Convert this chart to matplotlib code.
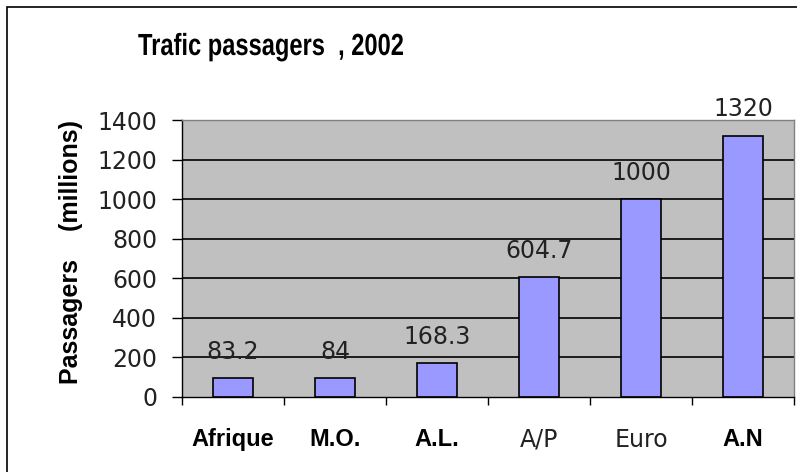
import matplotlib
matplotlib.use("Agg")
import matplotlib.pyplot as plt
from matplotlib.patches import Rectangle
from matplotlib.patheffects import AbstractPathEffect
from matplotlib.transforms import Affine2D

categories = ["Afrique", "M.O.", "A.L.", "A/P", "Euro", "A.N"]
bold_labels = [True, True, True, False, False, True]
bar_heights = [96, 96, 172, 606, 1000, 1320]
value_labels = ["83.2", "84", "168.3", "604.7", "1000", "1320"]
yticks = [0, 200, 400, 600, 800, 1000, 1200, 1400]

BOLD = ["Liberation Sans", "DejaVu Sans"]
NUM = ["DejaVu Sans"]


class Condensed(AbstractPathEffect):
    """Squeeze the glyphs horizontally (the title font is a narrow one)."""
    def __init__(self, sx):
        super().__init__()
        self.sx = sx

    def draw_path(self, renderer, gc, tpath, affine, rgbFace=None):
        renderer.draw_path(gc, tpath, Affine2D().scale(self.sx, 1) + affine,
                           rgbFace)


fig = plt.figure(figsize=(7.97, 4.72), dpi=100)
ax = fig.add_axes([182 / 797, 1 - 397 / 472, 612 / 797, 277 / 472])

ax.set_facecolor("#c0c0c0")
x = list(range(len(categories)))
ax.bar(x, bar_heights, width=0.4, color="#9999ff", edgecolor="black",
       linewidth=1.2, zorder=3)

# value labels sit a fixed distance above each bar
for xi, h, lab in zip(x, bar_heights, value_labels):
    ax.annotate(lab, (xi, h), xytext=(0, 19), textcoords="offset points",
                ha="center", va="center", fontsize=17, family=NUM,
                color="#222222", zorder=4)

ax.set_xlim(-0.5, len(categories) - 0.5)
ax.set_ylim(0, 1400)
ax.set_yticks(yticks)
ax.set_yticklabels([str(v) for v in yticks], fontsize=17, family=NUM,
                   color="#222222")
ax.tick_params(axis="y", direction="out", length=7, width=1, pad=11)

ax.set_xticks(x)
ax.set_xticklabels(categories)
for lab, b in zip(ax.get_xticklabels(), bold_labels):
    if b:
        lab.set_family(BOLD)
        lab.set_fontweight("bold")
        lab.set_fontsize(17)
    else:
        lab.set_family(NUM)
        lab.set_fontsize(17)
        lab.set_color("#222222")
ax.tick_params(axis="x", which="major", length=0, pad=22)
ax.set_xticks([i - 0.5 for i in range(len(categories) + 1)], minor=True)
ax.tick_params(axis="x", which="minor", direction="out", length=6, width=1)

for v in yticks[1:-1]:
    ax.axhline(v, color="black", linewidth=1.2, zorder=1)

ax.spines["left"].set_color("black")
ax.spines["bottom"].set_color("black")
ax.spines["top"].set_color("#808080")
ax.spines["right"].set_color("#808080")
for s in ax.spines.values():
    s.set_linewidth(1)
    s.set_zorder(5)

ax.set_ylabel("Passagers    (millions)", fontsize=18, fontweight="bold",
              family=BOLD)
ax.yaxis.set_label_coords(-0.162, 0.522)

fig.text(138 / 797, 1 - 55 / 472, "Trafic passagers  , 2002", ha="left",
         va="baseline", fontsize=22, fontweight="bold", family=BOLD,
         path_effects=[Condensed(0.775)])

# outer chart frame
fig.patches.append(Rectangle((7 / 797, -0.1), 1.2, 1 - 7 / 472 + 0.1,
                             transform=fig.transFigure, fill=False,
                             edgecolor="black", linewidth=1.2))

fig.savefig("out.png", dpi=100)
